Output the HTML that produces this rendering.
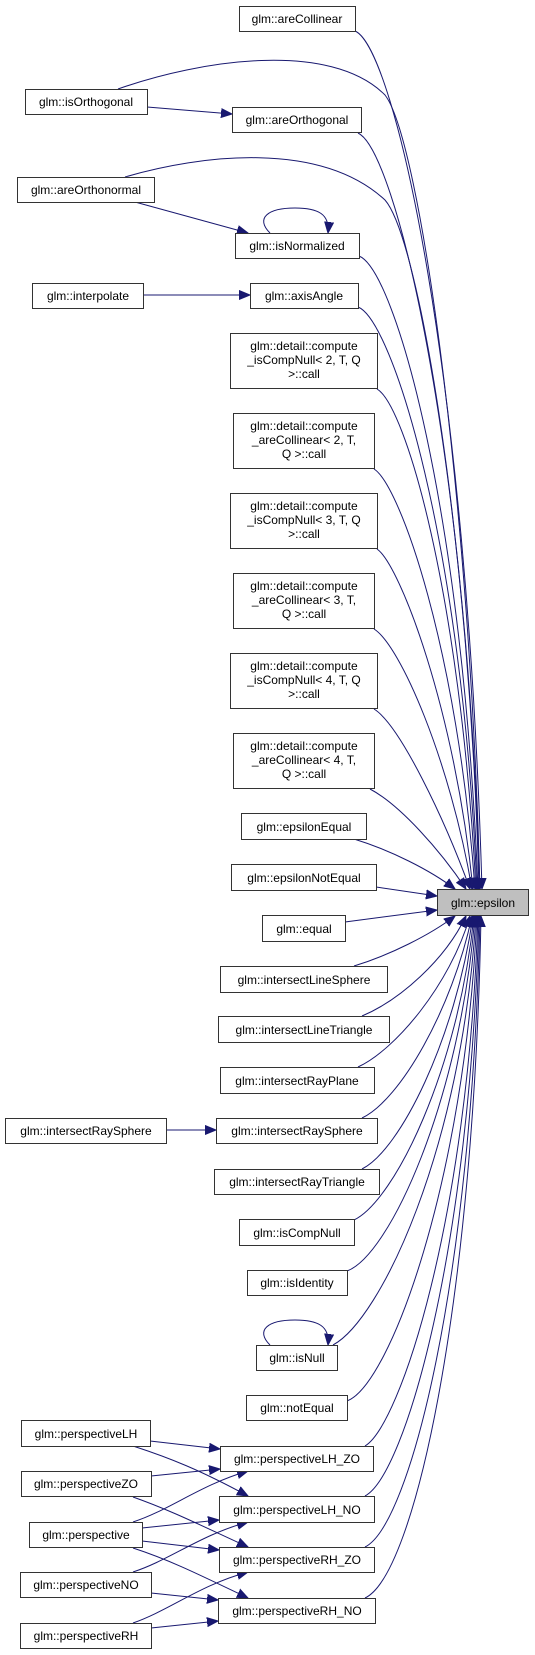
<!DOCTYPE html>
<html><head><meta charset="utf-8"><style>
html,body{margin:0;padding:0;background:#fff;}
svg{display:block;}
text{font-family:"Liberation Sans",Arial,sans-serif;font-size:12px;fill:#000;text-anchor:middle;}
.n{fill:#fff;stroke:#333;stroke-width:1;}
.e{fill:none;stroke:#191970;stroke-width:1;}
</style></head><body>
<svg width="535" height="1655" viewBox="0 0 535 1655" xmlns="http://www.w3.org/2000/svg">
<defs>
<marker id="a" markerUnits="userSpaceOnUse" markerWidth="12" markerHeight="10" refX="11" refY="5" orient="auto">
<path d="M0,0.5 L11,5 L0,9.5 Z" fill="#191970" stroke="#191970"/>
</marker>
</defs>
<g class="e" marker-end="url(#a)">
<path d="M355,31 C395,48 467,374 482,889"/>
<path d="M118,89 C200,60 330,40 385,95 C420,140 470,500 480,889"/>
<path d="M358,133 C395,150 465,435 480,889"/>
<path d="M125,177 C200,155 320,140 385,200 C420,240 470,550 479,889"/>
<path d="M359,256 C395,270 463,510 478,889"/>
<path d="M358,307 C392,320 462,540 477,889"/>
<path d="M377,389 C405,405 460,590 476,889"/>
<path d="M374,469 C400,485 458,650 475,889"/>
<path d="M377,549 C400,565 455,710 473,889"/>
<path d="M374,629 C400,645 450,760 472,889"/>
<path d="M374,709 C400,725 445,820 470,889"/>
<path d="M370,789 C400,805 440,850 466,889"/>
<path d="M354,839 C390,850 430,870 455,889"/>
<path d="M376,887 L437,896"/>
<path d="M345,922 L437,910"/>
<path d="M354,966 C390,955 430,935 455,916"/>
<path d="M362,1016 C400,1000 445,960 466,916"/>
<path d="M358,1067 C395,1050 450,985 470,916"/>
<path d="M362,1118 C400,1100 452,1010 472,916"/>
<path d="M362,1169 C400,1150 455,1040 473,916"/>
<path d="M354,1220 C395,1200 458,1070 474,916"/>
<path d="M347,1271 C390,1255 460,1100 475,916"/>
<path d="M333,1345 C380,1320 462,1150 476,916"/>
<path d="M347,1401 C390,1385 465,1180 477,916"/>
<path d="M365,1446 C400,1425 468,1220 478,916"/>
<path d="M365,1496 C405,1475 470,1250 479,916"/>
<path d="M365,1547 C410,1525 472,1280 480,916"/>
<path d="M365,1598 C415,1575 474,1300 481,916"/>
<!-- local edges -->
<path d="M147,107 L232,114"/>
<path d="M135,202 L248,233"/>
<path d="M270,233 C255,218 268,208 295,208 C318,208 330,214 328,233"/>
<path d="M143,295 L250,295"/>
<path d="M166,1130 L216,1130"/>
<path d="M270,1345 C255,1330 268,1320 295,1320 C318,1320 330,1326 328,1345"/>
<path d="M150,1441 L220,1449"/>
<path d="M133,1446 C170,1458 200,1470 248,1496"/>
<path d="M151,1476 L220,1469"/>
<path d="M133,1497 C170,1510 200,1525 248,1547"/>
<path d="M133,1522 C170,1510 200,1485 248,1471"/>
<path d="M142,1528 L219,1520"/>
<path d="M142,1541 L219,1550"/>
<path d="M133,1548 C170,1560 200,1575 248,1598"/>
<path d="M133,1572 C170,1560 200,1535 248,1522"/>
<path d="M151,1593 L218,1600"/>
<path d="M133,1623 C170,1610 200,1585 248,1572"/>
<path d="M151,1628 L218,1621"/>
</g>
<g>
<rect class="n" x="239.5" y="6.5" width="116" height="25"/><text x="297" y="23">glm::areCollinear</text>
<rect class="n" x="25.5" y="89.5" width="122" height="25"/><text x="86" y="106">glm::isOrthogonal</text>
<rect class="n" x="232.5" y="107.5" width="129" height="25"/><text x="297" y="124">glm::areOrthogonal</text>
<rect class="n" x="17.5" y="177.5" width="137" height="25"/><text x="86" y="194">glm::areOrthonormal</text>
<rect class="n" x="235.5" y="233.5" width="124" height="25"/><text x="297" y="250">glm::isNormalized</text>
<rect class="n" x="32.5" y="283.5" width="111" height="25"/><text x="88" y="300">glm::interpolate</text>
<rect class="n" x="250.5" y="283.5" width="108" height="25"/><text x="304" y="300">glm::axisAngle</text>

<rect class="n" x="230.5" y="333.5" width="147" height="55"/><text x="304" y="350">glm::detail::compute</text><text x="304" y="364">_isCompNull&lt; 2, T, Q</text><text x="304" y="378">&gt;::call</text>
<rect class="n" x="233.5" y="413.5" width="141" height="55"/><text x="304" y="430">glm::detail::compute</text><text x="304" y="444">_areCollinear&lt; 2, T,</text><text x="304" y="458">Q &gt;::call</text>
<rect class="n" x="230.5" y="493.5" width="147" height="55"/><text x="304" y="510">glm::detail::compute</text><text x="304" y="524">_isCompNull&lt; 3, T, Q</text><text x="304" y="538">&gt;::call</text>
<rect class="n" x="233.5" y="573.5" width="141" height="55"/><text x="304" y="590">glm::detail::compute</text><text x="304" y="604">_areCollinear&lt; 3, T,</text><text x="304" y="618">Q &gt;::call</text>
<rect class="n" x="230.5" y="653.5" width="147" height="55"/><text x="304" y="670">glm::detail::compute</text><text x="304" y="684">_isCompNull&lt; 4, T, Q</text><text x="304" y="698">&gt;::call</text>
<rect class="n" x="233.5" y="733.5" width="141" height="55"/><text x="304" y="750">glm::detail::compute</text><text x="304" y="764">_areCollinear&lt; 4, T,</text><text x="304" y="778">Q &gt;::call</text>

<rect class="n" x="241.5" y="813.5" width="125" height="26"/><text x="304" y="831">glm::epsilonEqual</text>
<rect class="n" x="231.5" y="864.5" width="145" height="26"/><text x="304" y="882">glm::epsilonNotEqual</text>
<rect x="437.5" y="889.5" width="91" height="26" fill="#bfbfbf" stroke="#333"/><text x="483" y="907">glm::epsilon</text>
<rect class="n" x="262.5" y="915.5" width="83" height="26"/><text x="304" y="933">glm::equal</text>
<rect class="n" x="220.5" y="966.5" width="167" height="26"/><text x="304" y="984">glm::intersectLineSphere</text>
<rect class="n" x="218.5" y="1016.5" width="171" height="26"/><text x="304" y="1034">glm::intersectLineTriangle</text>
<rect class="n" x="220.5" y="1067.5" width="154" height="26"/><text x="297" y="1085">glm::intersectRayPlane</text>
<rect class="n" x="5.5" y="1118.5" width="161" height="25"/><text x="86" y="1135">glm::intersectRaySphere</text>
<rect class="n" x="216.5" y="1118.5" width="161" height="25"/><text x="297" y="1135">glm::intersectRaySphere</text>
<rect class="n" x="214.5" y="1169.5" width="165" height="25"/><text x="297" y="1186">glm::intersectRayTriangle</text>
<rect class="n" x="239.5" y="1219.5" width="115" height="26"/><text x="297" y="1237">glm::isCompNull</text>
<rect class="n" x="247.5" y="1270.5" width="100" height="25"/><text x="297" y="1287">glm::isIdentity</text>
<rect class="n" x="256.5" y="1345.5" width="81" height="25"/><text x="297" y="1362">glm::isNull</text>
<rect class="n" x="246.5" y="1395.5" width="101" height="25"/><text x="297" y="1412">glm::notEqual</text>

<rect class="n" x="21.5" y="1420.5" width="129" height="26"/><text x="86" y="1438">glm::perspectiveLH</text>
<rect class="n" x="220.5" y="1446.5" width="153" height="25"/><text x="297" y="1463">glm::perspectiveLH_ZO</text>
<rect class="n" x="21.5" y="1471.5" width="130" height="25"/><text x="86" y="1488">glm::perspectiveZO</text>
<rect class="n" x="219.5" y="1496.5" width="155" height="26"/><text x="297" y="1514">glm::perspectiveLH_NO</text>
<rect class="n" x="29.5" y="1522.5" width="113" height="25"/><text x="86" y="1539">glm::perspective</text>
<rect class="n" x="219.5" y="1547.5" width="155" height="25"/><text x="297" y="1564">glm::perspectiveRH_ZO</text>
<rect class="n" x="20.5" y="1572.5" width="131" height="25"/><text x="86" y="1589">glm::perspectiveNO</text>
<rect class="n" x="218.5" y="1598.5" width="157" height="25"/><text x="297" y="1615">glm::perspectiveRH_NO</text>
<rect class="n" x="20.5" y="1623.5" width="131" height="25"/><text x="86" y="1640">glm::perspectiveRH</text>
</g>
</svg>
</body></html>
